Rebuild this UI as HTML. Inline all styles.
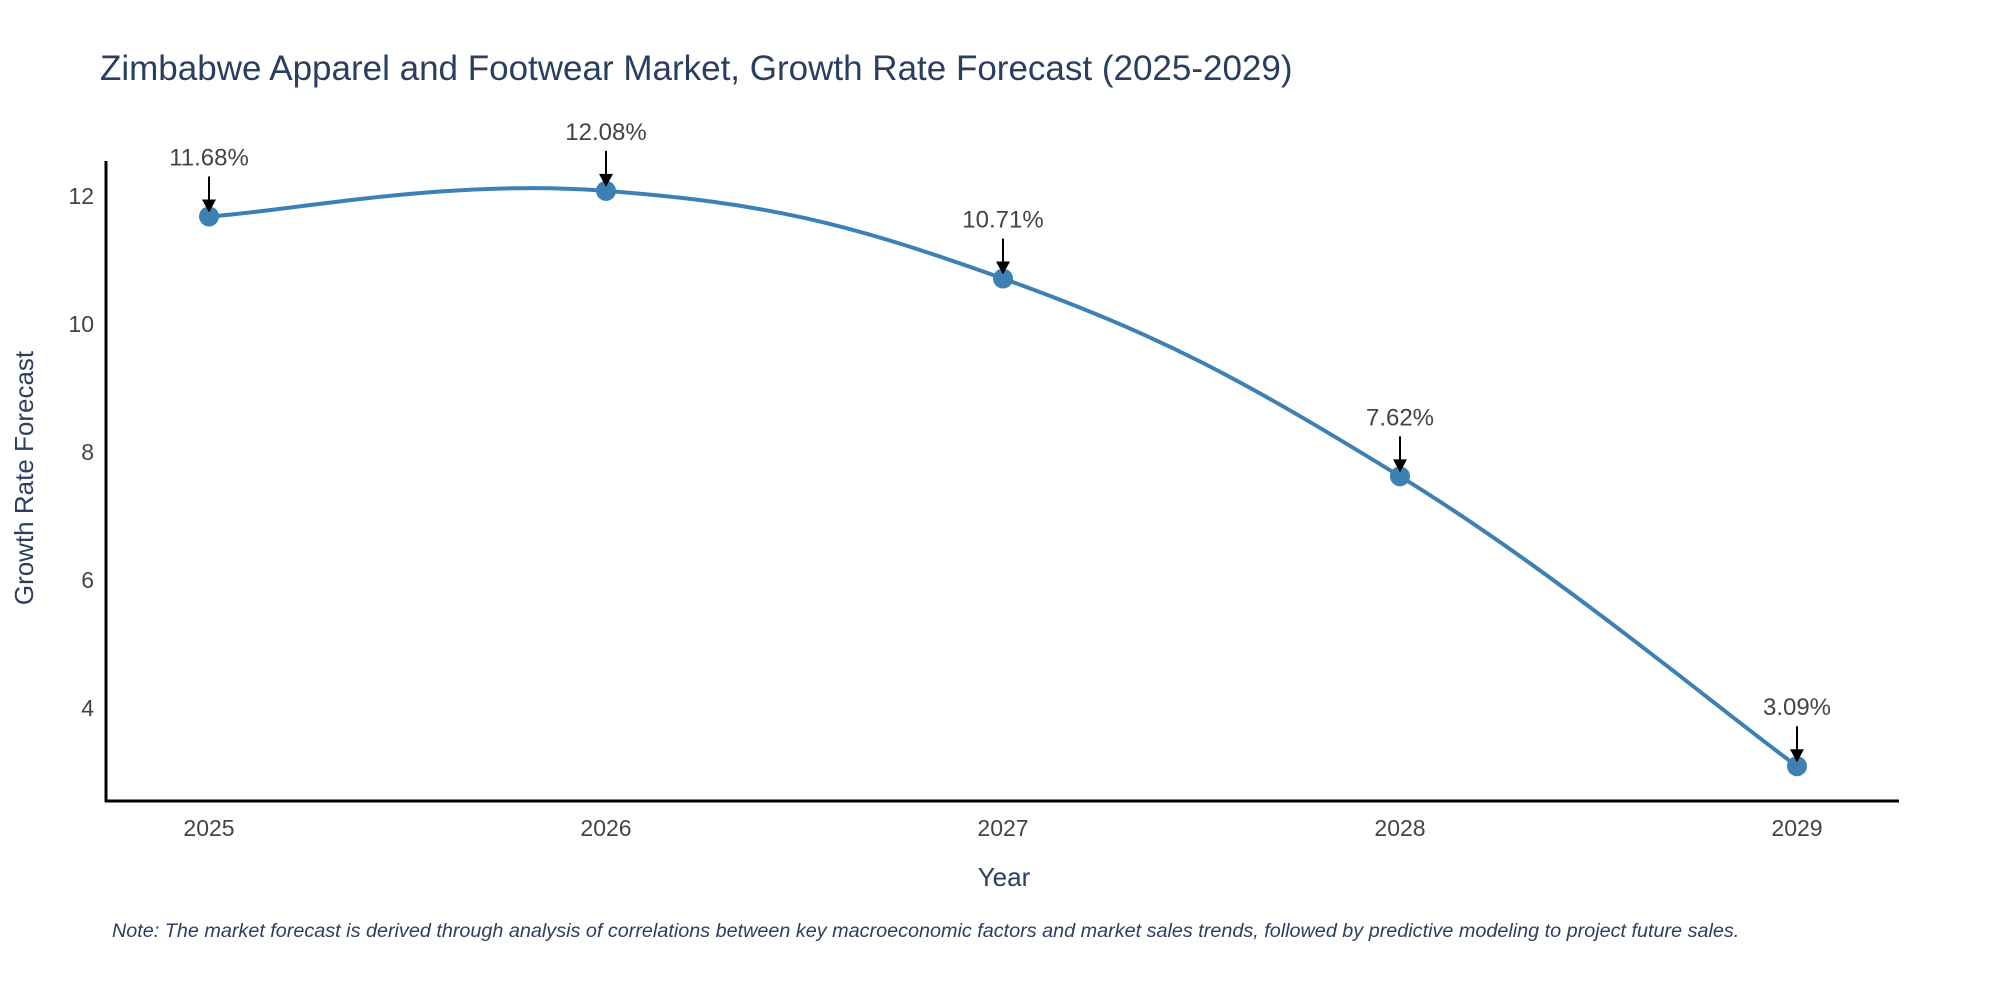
<!DOCTYPE html>
<html><head><meta charset="utf-8"><style>
html,body{margin:0;padding:0;background:#fff;}
svg{display:block;font-family:"Liberation Sans",sans-serif;}
</style></head><body>
<svg id="chart" width="2000" height="1000">
<text x="100" y="80" font-size="35" fill="#2a3f5f">Zimbabwe Apparel and Footwear Market, Growth Rate Forecast (2025-2029)</text>
<g id="yticks"></g>
<g id="xticks"></g>
<line x1="106" y1="161" x2="106" y2="802" stroke="#000" stroke-width="3"/>
<line x1="105" y1="801" x2="1899" y2="801" stroke="#000" stroke-width="3"/>
<path id="line" fill="none" stroke="#3d80b3" stroke-width="4"/>
<g id="marks"></g>
<text x="1004" y="886" font-size="26" fill="#2a3f5f" text-anchor="middle">Year</text>
<text transform="translate(33,478) rotate(-90)" font-size="26" fill="#2a3f5f" text-anchor="middle">Growth Rate Forecast</text>
<text x="112" y="937" font-size="19.8" font-style="italic" fill="#2a3f5f">Note: The market forecast is derived through analysis of correlations between key macroeconomic factors and market sales trends, followed by predictive modeling to project future sales.</text>
</svg>
<script>
const years=[2025,2026,2027,2028,2029];
const values=[11.68,12.08,10.71,7.62,3.09];
const labels=["11.68%","12.08%","10.71%","7.62%","3.09%"];
const yTicks=[4,6,8,10,12];
const NS="http://www.w3.org/2000/svg";
function xs(i){return 209+i*(1797-209)/4;}
function ys(v){return 196+(12-v)*64;}
function mk(tag,attrs,parent){const e=document.createElementNS(NS,tag);for(const k in attrs)e.setAttribute(k,attrs[k]);parent.appendChild(e);return e;}
const yg=document.getElementById('yticks');
yTicks.forEach(t=>{const e=mk('text',{x:94,y:ys(t)+8,'font-size':23,fill:'#444','text-anchor':'end'},yg);


e.textContent=t;});
const xg=document.getElementById('xticks');
years.forEach((y,i)=>{const e=mk('text',{x:xs(i),y:836,'font-size':23,fill:'#444','text-anchor':'middle'},xg);


e.textContent=y;});
const P=values.map((v,i)=>[xs(i),ys(v)]);
let d='M'+P[0][0]+','+P[0][1];
const s=0.2;
for(let i=0;i<P.length-1;i++){const p0=P[Math.max(0,i-1)],p1=P[i],p2=P[i+1],p3=P[Math.min(P.length-1,i+2)];
const c1=[p1[0]+(p2[0]-p0[0])*s,p1[1]+(p2[1]-p0[1])*s];
const c2=[p2[0]-(p3[0]-p1[0])*s,p2[1]-(p3[1]-p1[1])*s];
d+=` C${c1[0]},${c1[1]} ${c2[0]},${c2[1]} ${p2[0]},${p2[1]}`;}
document.getElementById('line').setAttribute('d',d);
const mg=document.getElementById('marks');
P.forEach((p,i)=>{const c=mk('circle',{cx:p[0],cy:p[1],r:10,fill:'#3d80b3'},mg);


const l=mk('line',{x1:p[0],y1:p[1]-40,x2:p[0],y2:p[1]-14,stroke:'#000','stroke-width':2},mg);


const a=mk('polygon',{points:`${p[0]-7},${p[1]-17} ${p[0]+7},${p[1]-17} ${p[0]},${p[1]-4}`,fill:'#000'},mg);


const t=mk('text',{x:p[0],y:p[1]-51,'font-size':24,fill:'#444','text-anchor':'middle'},mg);


t.textContent=labels[i];});
</script>
</body></html>
